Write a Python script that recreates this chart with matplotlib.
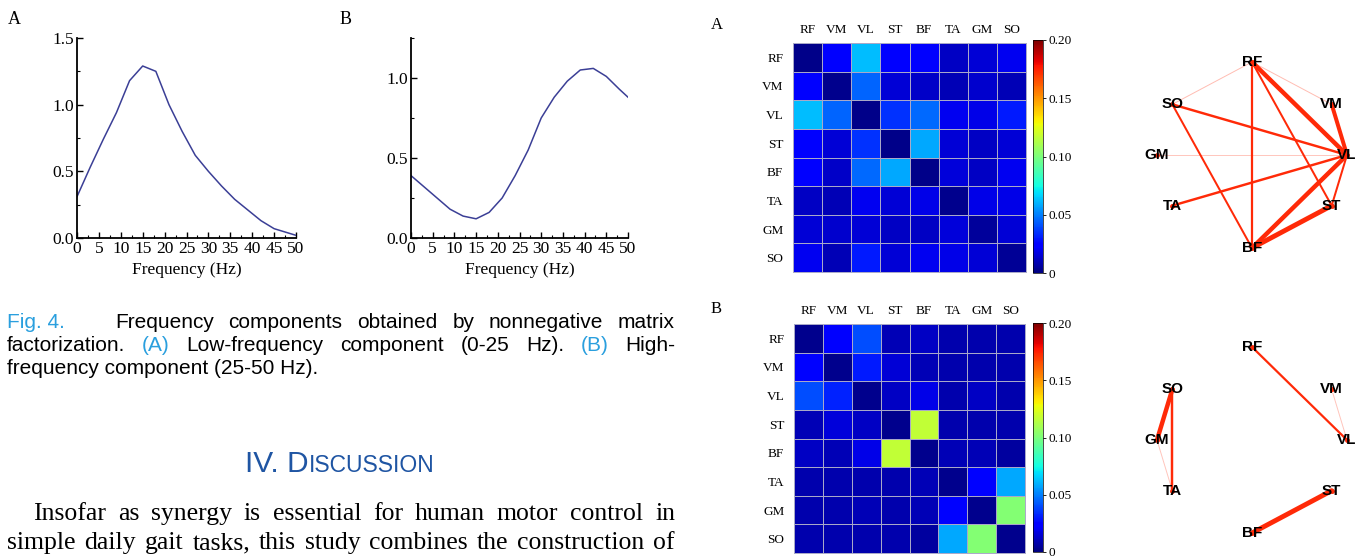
import numpy as np
import matplotlib
matplotlib.use('Agg')
from matplotlib import pyplot as plt

W, H = 1364, 559

# frequency components (NMF)
freq = [0, 3, 6, 9, 12, 15, 18, 21, 24, 27, 30, 33, 36, 39, 42, 45, 48, 50]
low_comp = [0.31, 0.53, 0.74, 0.94, 1.18, 1.29, 1.25, 1.00, 0.80, 0.62, 0.50, 0.39, 0.29, 0.21, 0.13, 0.07, 0.04, 0.02]
high_comp = [0.39, 0.32, 0.25, 0.18, 0.137, 0.12, 0.16, 0.25, 0.39, 0.55, 0.75, 0.88, 0.98, 1.05, 1.06, 1.01, 0.93, 0.88]

muscles = ['RF', 'VM', 'VL', 'ST', 'BF', 'TA', 'GM', 'SO']

coh_low = [
    [0.002, 0.022, 0.062, 0.022, 0.024, 0.012, 0.015, 0.020],
    [0.022, 0.003, 0.045, 0.015, 0.013, 0.010, 0.014, 0.010],
    [0.062, 0.045, 0.002, 0.035, 0.046, 0.020, 0.018, 0.030],
    [0.022, 0.015, 0.035, 0.002, 0.058, 0.015, 0.012, 0.015],
    [0.024, 0.013, 0.046, 0.058, 0.002, 0.016, 0.012, 0.020],
    [0.012, 0.010, 0.020, 0.015, 0.018, 0.003, 0.018, 0.018],
    [0.015, 0.014, 0.015, 0.012, 0.012, 0.016, 0.005, 0.015],
    [0.020, 0.010, 0.030, 0.015, 0.020, 0.018, 0.015, 0.004],
]
coh_high = [
    [0.003, 0.022, 0.040, 0.010, 0.012, 0.008, 0.008, 0.008],
    [0.025, 0.003, 0.030, 0.015, 0.010, 0.008, 0.008, 0.008],
    [0.040, 0.032, 0.003, 0.012, 0.018, 0.008, 0.012, 0.008],
    [0.010, 0.016, 0.012, 0.003, 0.117, 0.008, 0.008, 0.008],
    [0.012, 0.010, 0.018, 0.117, 0.003, 0.010, 0.010, 0.006],
    [0.008, 0.008, 0.008, 0.008, 0.010, 0.003, 0.025, 0.058],
    [0.008, 0.008, 0.010, 0.008, 0.010, 0.025, 0.003, 0.102],
    [0.008, 0.008, 0.008, 0.008, 0.006, 0.058, 0.102, 0.003],
]

# network edges (muscle, muscle, relative strength)
edges_low = [('RF', 'VL', 1.0), ('VM', 'VL', 0.9), ('VL', 'BF', 1.0), ('ST', 'BF', 1.1),
             ('RF', 'BF', 0.5), ('RF', 'ST', 0.45), ('SO', 'VL', 0.55), ('SO', 'BF', 0.45),
             ('TA', 'VL', 0.55), ('VL', 'ST', 0.45), ('RF', 'SO', 0.08), ('RF', 'VM', 0.08),
             ('GM', 'VL', 0.06)]
edges_high = [('SO', 'GM', 1.0), ('SO', 'TA', 0.55), ('GM', 'TA', 0.06),
              ('RF', 'VL', 0.5), ('VM', 'VL', 0.06), ('ST', 'BF', 1.1)]

plt.rcParams['font.family'] = 'Liberation Serif'


def px_box(l, t, r, b):
    return [l / W, 1 - b / H, (r - l) / W, (b - t) / H]


fig = plt.figure(figsize=(W / 100, H / 100), dpi=100)
renderer = fig.canvas.get_renderer()

# ---- line plots
line_col = '#3b3f96'
for vals, box, ylim, lab, lx in [(low_comp, (77, 38, 296, 238), 1.5, 'A', 8),
                                (high_comp, (411, 38, 628, 238), 1.25, 'B', 340)]:
    ax = fig.add_axes(px_box(*box))
    ax.plot(freq, vals, color=line_col, lw=1.1)
    ax.set_xlim(0, 50)
    ax.set_ylim(0, ylim)
    for s in ['top', 'right']:
        ax.spines[s].set_visible(False)
    for s in ['left', 'bottom']:
        ax.spines[s].set_linewidth(1.3)
    ax.set_xticks(range(0, 51, 5))
    ax.set_xticks(np.arange(0, 50.1, 2.5), minor=True)
    ax.set_yticks(np.arange(0, ylim + 0.01, 0.5))
    ax.set_yticks(np.arange(0, ylim + 0.01, 0.25), minor=True)
    ax.set_yticklabels(['%.1f' % v for v in np.arange(0, ylim + 0.01, 0.5)])
    ax.tick_params(direction='in', length=4, width=1, labelsize=12.5, pad=2)
    ax.tick_params(which='minor', direction='in', length=2, width=0.8)
    ax.set_xlabel('Frequency (Hz)', fontsize=12.5, labelpad=4)
    fig.text(lx / W, 1 - 20 / H, lab, fontsize=13, va='center', ha='left')

# ---- caption and text
sans = ['Liberation Sans Narrow', 'Liberation Sans']
cap_size = 15
fig_blue = '#2a9fde'


def word_w(s, size, family):
    t = fig.text(0, 0, s, fontsize=size, family=family)
    w = t.get_window_extent(renderer).width
    t.remove()
    return w


def justify(words, x0, x1, y, size, family):
    widths = [word_w(w, size, family) for w, c in words]
    gap = (x1 - x0 - sum(widths)) / (len(words) - 1)
    x = x0
    for (w, c), wd in zip(words, widths):
        fig.text(x / W, 1 - y / H, w, fontsize=size, family=family, color=c, va='baseline')
        x += wd + gap


k = 'black'
fig.text(7 / W, 1 - 328 / H, 'Fig. 4.', fontsize=cap_size, family=sans, color=fig_blue, va='baseline')
justify([(w, k) for w in 'Frequency components obtained by nonnegative matrix'.split()],
        115, 675, 328, cap_size, sans)
justify([('factorization.', k), ('(A)', fig_blue), ('Low-frequency', k), ('component', k),
         ('(0-25', k), ('Hz).', k), ('(B)', fig_blue), ('High-', k)], 7, 675, 351, cap_size, sans)
fig.text(7 / W, 1 - 374 / H, 'frequency component (25-50 Hz).', fontsize=cap_size, family=sans,
         va='baseline')

head_col = '#1f55a3'
w1 = word_w('IV. D', 21.5, sans)
w2 = word_w('ISCUSSION', 16.5, sans)
hx = 340 - (w1 + w2) / 2
fig.text(hx / W, 1 - 472 / H, 'IV. D', fontsize=21.5, family=sans, color=head_col, va='baseline')
fig.text((hx + w1) / W, 1 - 472 / H, 'ISCUSSION', fontsize=16.5, family=sans, color=head_col,
         va='baseline')

serif = 'Liberation Serif'
justify([(w, k) for w in 'Insofar as synergy is essential for human motor control in'.split()],
        33, 675, 520, 18.5, serif)
justify([(w, k) for w in 'simple daily gait tasks, this study combines the construction of'.split()],
        7, 675, 549, 18.5, serif)

# ---- heatmaps
for coh, box, cbox, lab, ly in [(coh_low, (793, 43, 1026, 272), (1033, 40, 1043, 273), 'A', 25),
                               (coh_high, (794, 324, 1025, 553), (1033, 323, 1043, 552), 'B', 309)]:
    ax = fig.add_axes(px_box(*box))
    m = ax.pcolormesh(np.array(coh), cmap='jet', vmin=0, vmax=0.2,
                      edgecolors='#a8a8c8', linewidth=0.7)
    ax.set_xlim(0, 8)
    ax.set_ylim(8, 0)
    ax.set_xticks(np.arange(8) + 0.5, muscles)
    ax.set_yticks(np.arange(8) + 0.5, muscles)
    ax.xaxis.tick_top()
    ax.tick_params(length=0, labelsize=9.5)
    ax.tick_params(axis='y', pad=7)
    ax.tick_params(axis='x', pad=5)
    for s in ax.spines.values():
        s.set_edgecolor('#a8a8c8')
        s.set_linewidth(0.7)
    cax = fig.add_axes(px_box(*cbox))
    cb = fig.colorbar(m, cax=cax, ticks=[0, 0.05, 0.10, 0.15, 0.20])
    cb.ax.set_yticklabels(['0', '0.05', '0.10', '0.15', '0.20'])
    cb.ax.tick_params(labelsize=9.5, length=2, width=0.6, pad=2)
    cb.outline.set_linewidth(0.5)
    fig.text(711 / W, 1 - ly / H, lab, fontsize=12, va='center')

# ---- networks
angles = {'RF': 90, 'VM': 33, 'VL': 0, 'ST': -33, 'BF': -90, 'TA': -147, 'GM': 180, 'SO': 147}
pos = {n: (95 * np.cos(np.radians(a)), 93 * np.sin(np.radians(a))) for n, a in angles.items()}
edge_col = '#ff2a08'
for edges, box in [(edges_low, (1132, 40, 1372, 270)), (edges_high, (1132, 325, 1372, 555))]:
    ax = fig.add_axes(px_box(*box))
    ax.set_xlim(-120, 120)
    ax.set_ylim(-115, 115)
    ax.axis('off')
    for a, b, w in edges:
        (xa, ya), (xb, yb) = pos[a], pos[b]
        ax.plot([xa, xb], [ya, yb], color=edge_col, lw=max(0.7, 3.2 * w),
                alpha=min(1.0, 0.15 + 2 * w), solid_capstyle='round', zorder=1)
    for n in muscles:
        x, y = pos[n]
        ax.plot(x, y, 'o', color=edge_col, ms=2.5, zorder=2)
        ax.text(x, y, n, fontsize=11, family='Liberation Sans', weight='bold', ha='center',
                va='center', zorder=3)

fig.savefig('out.png', dpi=100)
